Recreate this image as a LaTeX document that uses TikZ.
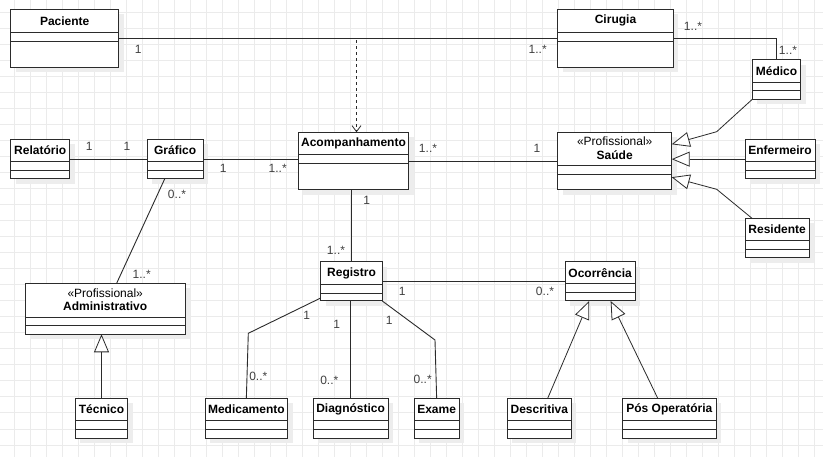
\documentclass[tikz,border=0pt]{standalone}
\usepackage{fontspec}
\setmainfont{Liberation Sans}
\usetikzlibrary{arrows.meta,fit,calc}
\definecolor{gridc}{HTML}{EBEBEB}
\definecolor{shadc}{HTML}{EDEDED}
\definecolor{linec}{HTML}{2B2B2B}
\definecolor{multc}{HTML}{404040}
\tikzset{
  gridline/.style={draw=gridc, line width=1pt},
  clsbox/.style={draw=linec, line width=1pt, fill=white, inner sep=0pt, outer sep=0pt},
  clsdiv/.style={draw=linec, line width=1pt},
  clstitle/.style={font=\fontsize{12}{14}\selectfont\bfseries, inner sep=0pt},
  stereotxt/.style={font=\fontsize{12}{14}\selectfont, inner sep=0pt},
  assoc/.style={draw=linec, line width=0.9pt},
  genline/.style={draw=linec, line width=0.8pt, -{Triangle[length=18pt,width=15pt,fill=white,line width=0.8pt]}},
  depline/.style={draw=linec, line width=0.9pt, dash pattern=on 3pt off 3pt, -{Straight Barb[length=6pt,width=9pt,line width=0.8pt]}},
  multlbl/.style={font=\fontsize{12}{14}\selectfont, text=multc, inner sep=0pt},
}
\newcommand\umlcls[8]{%
  \fill[shadc] ({#2+5},{#3+5}) rectangle ({#4+5},{#5+5});
  \node[clsbox, fit={(#2,#3) (#4,#5)}] (#1) {};
  \draw[clsdiv] (#2,#6) -- (#4,#6) (#2,#7) -- (#4,#7);
  \node[clstitle] (#1-title) at ({(#2+#4)/2},{(#3+#6)/2}) {#8};
}
\begin{document}
\begin{tikzpicture}[x=1pt,y=-1pt]
\useasboundingbox (0,0) rectangle (823,457);
\fill[white] (0,0) rectangle (823,457);
\foreach \k in {0,...,50} \draw[gridline] ({14.7+16*\k},0) -- ({14.7+16*\k},457);
\foreach \k in {0,...,27} \draw[gridline] (0,{13+16*\k}) -- (823,{13+16*\k});

% classes
\umlcls{pac}{10.7}{9.3}{118.7}{67.3}{32.3}{41.3}{Paciente}
\umlcls{cir}{557.7}{9.3}{673.3}{67.3}{32.3}{41.3}{Cirugia}
\umlcls{med}{752.3}{60}{800.7}{99.3}{82.3}{90.7}{Médico}
\umlcls{rel}{10.7}{139.3}{69.7}{179}{161.7}{170.3}{Relatório}
\umlcls{graf}{147.3}{139.3}{203}{179}{161.7}{170.3}{Gráfico}
\umlcls{acomp}{298.3}{132.3}{408.7}{189.7}{154.5}{163.5}{Acompanhamento}
\umlcls{sau}{557.7}{132.3}{671.7}{189.7}{166}{175}{}
\node[stereotxt] (sau-st) at (614.7,141) {«Profissional»};
\node[clstitle] (sau-name) at (614.7,155) {Saúde};
\umlcls{enf}{745}{139.3}{815}{179}{161.7}{170.3}{Enfermeiro}
\umlcls{res}{745}{218.3}{809.3}{257.7}{240.7}{249.3}{Residente}
\umlcls{adm}{25}{283.3}{185.3}{334.3}{317.3}{326}{}
\node[stereotxt] (adm-st) at (105.2,293.3) {«Profissional»};
\node[clstitle] (adm-name) at (105.2,306.5) {Administrativo};
\umlcls{reg}{320.7}{261.7}{382.3}{301}{284.3}{293.3}{Registro}
\umlcls{occ}{565.3}{261.7}{635}{301}{283.7}{292.7}{Ocorrência}
\umlcls{tec}{75.3}{398.3}{127.7}{438.3}{420.7}{429.3}{Técnico}
\umlcls{medi}{205}{398.3}{287.7}{438.3}{420.7}{429.3}{Medicamento}
\umlcls{diag}{313.3}{398.3}{388}{438.3}{420.7}{429.3}{Diagnóstico}
\umlcls{exa}{414}{398.3}{459.3}{438.3}{420.7}{429.3}{Exame}
\umlcls{desc}{507.3}{398.3}{571.3}{438.3}{420.7}{429.3}{Descritiva}
\umlcls{pos}{622.7}{398.3}{716}{438.3}{420.7}{429.3}{Pós Operatória}

% associations
\draw[assoc] (pac.east) -- (cir.west);
\coordinate (depx) at ($(acomp.north)+(3,0)$);
\draw[depline] (pac.east) -- (pac.east -| depx) -- (depx);
\draw[assoc] (cir.east) -| (med.north);
\draw[assoc] (rel.east) -- (graf.west);
\draw[assoc] (graf.east) -- (graf.east -| acomp.west);
\draw[assoc] (acomp.east) -- (sau.west);
\draw[assoc] ($(graf.south)+(-10.5,0)$) -- ($(adm.north)+(11.5,0)$);
\draw[assoc] (reg.north |- acomp.south) -- (reg.north);
\draw[assoc] (reg.east) -- (occ.west);
\draw[assoc] ($(reg.south west)+(0,-3)$) -- (248.3,333.3) -- (medi.north);
\draw[assoc] (diag.north |- reg.south) -- (diag.north);
\draw[assoc] (reg.south east) -- (435,340) -- (exa.north);

% generalizations
\draw[genline] (med.south west) -- (716.7,131.7) -- ($(sau.north east)+(0,12)$);
\draw[genline] (enf.west) -- (enf.west -| sau.east);
\draw[genline] ($(res.north west)+(7,0)$) -- (716.7,189.3) -- ($(sau.south east)+(0,-12.5)$);
\draw[genline] (tec.north) -- (tec.north |- adm.south);
\draw[genline] ($(desc.north)+(8.4,0)$) -- ($(occ.south)+(-11,0)$);
\draw[genline] ($(pos.north)+(-11.6,0)$) -- ($(occ.south)+(10.5,0)$);

% multiplicities
\node[multlbl] (l1) at (138.3,49) {1};
\node[multlbl] (l2) at (537.7,49) {1..*};
\node[multlbl] (l3) at (693,26) {1..*};
\node[multlbl] (l4) at (788,50) {1..*};
\node[multlbl] (l5) at (89.3,146.7) {1};
\node[multlbl] (l6) at (127,146.7) {1};
\node[multlbl] (l7) at (223.3,168.3) {1};
\node[multlbl] (l8) at (277.7,168.3) {1..*};
\node[multlbl] (l9) at (428,148) {1..*};
\node[multlbl] (l10) at (537,148) {1};
\node[multlbl] (l11) at (177,194) {0..*};
\node[multlbl] (l12) at (141.7,274) {1..*};
\node[multlbl] (l13) at (366.7,200.7) {1};
\node[multlbl] (l14) at (336,250) {1..*};
\node[multlbl] (l15) at (402.3,291.7) {1};
\node[multlbl] (l16) at (545,291.7) {0..*};
\node[multlbl] (l17) at (306.7,315) {1};
\node[multlbl] (l18) at (258.3,376.7) {0..*};
\node[multlbl] (l19) at (336.7,324) {1};
\node[multlbl] (l20) at (329.3,380.7) {0..*};
\node[multlbl] (l21) at (389.3,320.7) {1};
\node[multlbl] (l22) at (422.7,379.3) {0..*};
\end{tikzpicture}
\end{document}
